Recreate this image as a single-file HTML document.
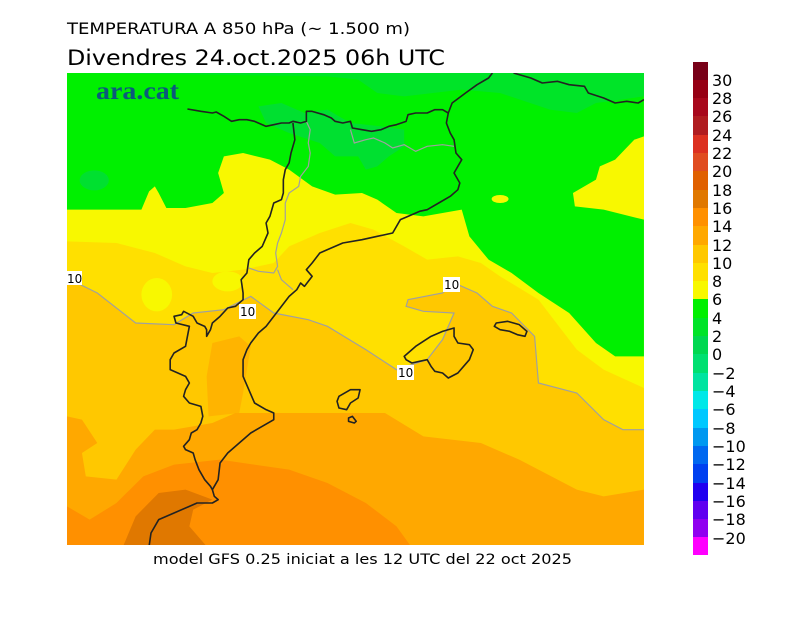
<!DOCTYPE html>
<html><head><meta charset="utf-8"><style>
html,body{margin:0;padding:0;background:#fff;}
svg{display:block;font-family:"DejaVu Sans","Liberation Sans",sans-serif;}
</style></head><body>
<svg width="800" height="617" viewBox="0 0 800 617" xmlns="http://www.w3.org/2000/svg">
<rect width="800" height="617" fill="#fff"/>
<text x="67" y="34" font-size="16" textLength="343" lengthAdjust="spacingAndGlyphs" fill="#000">TEMPERATURA A 850 hPa (~ 1.500 m)</text>
<text x="67" y="65" font-size="21" textLength="378" lengthAdjust="spacingAndGlyphs" fill="#000">Divendres  24.oct.2025 06h UTC</text>
<defs><clipPath id="mc"><rect x="67" y="73" width="577" height="472"/></clipPath></defs>
<g clip-path="url(#mc)">
<rect x="67" y="73" width="577" height="472" fill="#f8f800"/>
<g transform="translate(58.94,59.67) scale(0.3836,0.33333)">
<path fill="#00f000" d="M21,40 H1525 V230 L1500,240 1450,300 1410,320 1400,360 1340,400 1345,440 1420,450 1525,480 V890 L1450,890 1400,850 1330,760 1250,700 1180,640 1120,600 1070,530 1050,450 950,470 880,460 830,420 790,400 720,405 660,380 600,330 550,300 480,280 430,290 415,340 430,400 400,430 330,445 280,445 260,400 250,380 235,395 215,450 21,450 Z"/>
<path fill="#00e428" d="M21,40 H1525 V110 L1400,130 1350,160 1280,150 1150,100 1050,90 900,110 830,100 780,60 700,50 Z"/>
<path fill="#00e030" d="M520,140 L580,130 640,160 700,150 760,190 840,200 900,210 900,260 860,290 830,320 800,330 780,290 720,290 680,250 600,220 540,190 Z"/>
<ellipse cx="92" cy="362" rx="38" ry="30" fill="#00e030"/>
<ellipse cx="1150" cy="418" rx="22" ry="12" fill="#f8f800"/>
<path fill="#ffe000" d="M21,545 L150,550 250,580 330,620 400,640 480,630 560,610 600,560 680,520 760,490 820,510 900,560 960,600 1040,590 1100,610 1150,650 1250,720 1350,870 1420,930 1525,985 V1480 H21 Z"/>
<ellipse cx="255" cy="705" rx="40" ry="50" fill="#f8f800"/>
<ellipse cx="440" cy="665" rx="40" ry="30" fill="#f8f800"/>
<path fill="#ffc800" d="M21,655 L100,700 200,790 300,795 350,760 430,750 500,710 560,760 650,780 700,800 800,870 880,930 960,900 1000,840 1030,760 950,755 905,740 910,720 1000,700 1030,670 1090,700 1130,740 1180,760 1240,830 1250,970 1350,1000 1420,1080 1470,1110 1525,1110 V1480 H21 Z"/>
<path fill="#ffb400" d="M400,850 L470,830 500,860 480,1000 470,1060 390,1070 385,950 Z"/>
<path fill="#ffa800" d="M21,1070 L60,1080 100,1150 60,1180 70,1250 150,1260 200,1170 250,1110 300,1110 400,1090 460,1060 700,1060 850,1060 950,1130 1100,1150 1200,1200 1350,1290 1420,1310 1525,1290 V1480 H21 Z"/>
<path fill="#ff9000" d="M21,1340 L80,1380 150,1330 220,1250 300,1215 420,1200 600,1230 700,1270 800,1330 880,1400 930,1480 H21 Z"/>
<path fill="#e07800" d="M160,1480 L200,1370 260,1300 330,1290 400,1320 350,1350 340,1400 400,1480 Z"/>
<g fill="none" stroke="#a0a0a0" stroke-width="1.2">
<path vector-effect="non-scaling-stroke" d="M21,655 L100,700 200,790 300,795 350,760 430,750 500,710 560,760 650,780 700,800 800,870 880,930 960,900 1000,840 1030,760 950,755 905,740 910,720 1000,700 1030,670 1090,700 1130,740 1180,760 1240,830 1250,970 1350,1000 1420,1080 1470,1110 1525,1110"/>
<path vector-effect="non-scaling-stroke" d="M645,185 L655,210 650,250 655,280 650,320 630,350 625,380 600,400 590,430 590,480 580,520 570,550 565,580 570,620 560,640 520,635 495,625 M570,630 L580,660 610,690"/>
<path vector-effect="non-scaling-stroke" d="M760,210 L770,250 800,240 820,235 850,250 870,265 900,255 930,275 960,260 1000,255 1030,260"/>
</g>
<g fill="none" stroke="#222" stroke-width="1.6" stroke-linejoin="round">
<path vector-effect="non-scaling-stroke" d="M335,148 L370,155 400,160 410,157 430,170 450,185 470,180 490,180 510,185 540,200 560,195 580,190 600,190 610,185 630,190 645,185 645,155 660,155 690,165 710,175 720,185 740,190 760,185 765,205 790,210 815,215 840,210 860,200 880,195 905,185 910,165 930,160 960,160 980,150 1000,150 1015,160 1025,130 1060,100 1090,75 1120,55 1130,40"/>
<path vector-effect="non-scaling-stroke" d="M1185,40 L1230,55 1260,70 1300,65 1330,75 1370,80 1380,100 1420,115 1450,130 1480,125 1510,130 1525,120"/>
<path vector-effect="non-scaling-stroke" d="M1015,160 L1010,190 1020,220 1030,240 1035,280 1050,300 1040,320 1030,340 1045,370 1040,390 1020,410 990,430 960,450 940,455 910,470 890,480 870,520 830,530 790,540 740,550 700,570 680,580 660,610 645,630 660,650 650,665 640,680 630,670 620,690 600,710 580,740 560,770 540,800 520,820 500,850 490,870 480,900 480,950 495,990 510,1030 540,1050 560,1060 560,1080 530,1100 500,1120 470,1150 440,1180 420,1210 415,1260 400,1290 405,1310 415,1320 400,1330 360,1330 340,1340 300,1360 260,1380 240,1420 235,1460"/>
<path vector-effect="non-scaling-stroke" d="M610,190 L615,240 605,280 600,310 590,330 585,360 585,400 580,420 560,430 550,470 540,490 545,520 530,560 510,580 495,600 490,640 475,660 480,700 480,720 460,740 440,745 420,770 400,790 395,810 385,830 385,810 380,800 360,790 350,770 325,755 320,765 300,770 305,790 340,800 330,860 300,880 290,900 290,930 310,940 330,950 340,970 330,990 325,1010 340,1030 370,1040 375,1070 370,1090 360,1110 345,1120 340,1140 325,1160 330,1170 350,1180 355,1200 365,1230 380,1260 395,1280 400,1290"/>
<path vector-effect="non-scaling-stroke" d="M900,890 L930,860 970,830 1000,815 1030,805 1030,830 1040,850 1070,855 1080,870 1070,900 1055,920 1040,940 1015,955 1000,940 980,935 970,920 960,900 940,905 920,910 905,900 Z"/>
<path vector-effect="non-scaling-stroke" d="M1140,790 L1170,785 1200,795 1220,815 1215,830 1195,825 1175,815 1150,810 1135,800 Z"/>
<path vector-effect="non-scaling-stroke" d="M730,1010 L760,990 785,990 780,1015 760,1030 750,1050 730,1045 725,1025 Z"/>
<path vector-effect="non-scaling-stroke" d="M755,1075 L765,1070 775,1085 770,1090 755,1085 Z"/>
</g>
</g>
<text x="96" y="99" font-family="'Liberation Serif',serif" font-weight="bold" font-size="25" fill="#0b5a7c" textLength="83" lengthAdjust="spacingAndGlyphs">ara.cat</text>
<g font-size="12" fill="#000">
<rect x="67" y="271" width="15" height="14" fill="#fff"/><text x="67" y="283">10</text>
<rect x="239" y="304" width="17" height="15" fill="#fff"/><text x="240" y="316">10</text>
<rect x="443" y="277" width="17" height="15" fill="#fff"/><text x="444" y="289">10</text>
<rect x="397" y="365" width="17" height="15" fill="#fff"/><text x="398" y="377">10</text>
</g>
</g>
<text x="153" y="564" font-size="14" textLength="419" lengthAdjust="spacingAndGlyphs" fill="#000">model GFS 0.25 iniciat a les 12 UTC del 22 oct 2025</text>
<g>
<rect x="693" y="62" width="15" height="18" fill="#780018"/>
<rect x="693" y="80" width="15" height="19" fill="#960014"/>
<rect x="693" y="98" width="15" height="19" fill="#a8081c"/>
<rect x="693" y="116" width="15" height="19" fill="#b01c20"/>
<rect x="693" y="135" width="15" height="19" fill="#dc3020"/>
<rect x="693" y="153" width="15" height="19" fill="#e04c20"/>
<rect x="693" y="171" width="15" height="19" fill="#e06000"/>
<rect x="693" y="190" width="15" height="19" fill="#e07800"/>
<rect x="693" y="208" width="15" height="19" fill="#ff9000"/>
<rect x="693" y="226" width="15" height="19" fill="#ffa800"/>
<rect x="693" y="245" width="15" height="19" fill="#ffc800"/>
<rect x="693" y="263" width="15" height="19" fill="#ffe000"/>
<rect x="693" y="281" width="15" height="19" fill="#f8f800"/>
<rect x="693" y="299" width="15" height="19" fill="#00f000"/>
<rect x="693" y="318" width="15" height="19" fill="#00e428"/>
<rect x="693" y="336" width="15" height="19" fill="#00d850"/>
<rect x="693" y="354" width="15" height="19" fill="#00e070"/>
<rect x="693" y="373" width="15" height="19" fill="#00e4a0"/>
<rect x="693" y="391" width="15" height="19" fill="#00e8e8"/>
<rect x="693" y="409" width="15" height="19" fill="#00c8ff"/>
<rect x="693" y="428" width="15" height="19" fill="#0098f0"/>
<rect x="693" y="446" width="15" height="19" fill="#0068f0"/>
<rect x="693" y="464" width="15" height="19" fill="#0040f0"/>
<rect x="693" y="483" width="15" height="19" fill="#2000f0"/>
<rect x="693" y="501" width="15" height="19" fill="#6000f0"/>
<rect x="693" y="519" width="15" height="19" fill="#9000f0"/>
<rect x="693" y="537" width="15" height="18" fill="#ff00ff"/>
</g>
<g font-size="16" fill="#000">
<text x="712" y="86">30</text><text x="712" y="104">28</text><text x="712" y="122">26</text>
<text x="712" y="141">24</text><text x="712" y="159">22</text><text x="712" y="177">20</text>
<text x="712" y="196">18</text><text x="712" y="214">16</text><text x="712" y="232">14</text>
<text x="712" y="251">12</text><text x="712" y="269">10</text><text x="712" y="287">8</text>
<text x="712" y="305">6</text><text x="712" y="324">4</text><text x="712" y="342">2</text>
<text x="712" y="360">0</text><text x="712" y="379">−2</text><text x="712" y="397">−4</text>
<text x="712" y="415">−6</text><text x="712" y="434">−8</text><text x="712" y="452">−10</text>
<text x="712" y="470">−12</text><text x="712" y="489">−14</text><text x="712" y="507">−16</text>
<text x="712" y="525">−18</text><text x="712" y="544">−20</text>
</g>
</svg>
</body></html>
